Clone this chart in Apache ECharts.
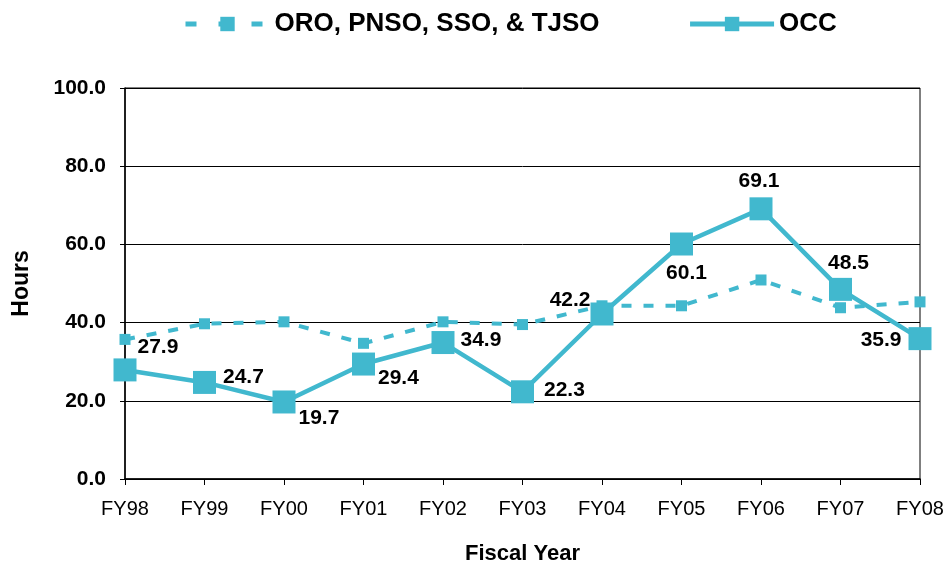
<!DOCTYPE html>
<html><head><meta charset="utf-8">
<script src="https://cdn.jsdelivr.net/npm/echarts@6/dist/echarts.min.js"></script>
<style>html,body{margin:0;padding:0;background:#fff}#c{width:947px;height:570px}</style>
</head><body><div id="c"></div>
<script>
const categories = ['FY98','FY99','FY00','FY01','FY02','FY03','FY04','FY05','FY06','FY07','FY08'];
const otherSeries = [35.7, 39.7, 40.2, 34.7, 40.2, 39.5, 44.3, 44.3, 50.9, 43.8, 45.3];
const occSeries = [27.9, 24.7, 19.7, 29.4, 34.9, 22.3, 42.2, 60.1, 69.1, 48.5, 35.9];
const occLabelPos = ['right','right','right','right','right','right','left','bottom','top','top','left'];
const occLabelOffset = [[-4,-23],[2,-5],[-2,16],[-2,14],[1,-2],[5,-2],[5,-14],[5,2],[-2,-1],[8,1],[-2,2]];
const color = '#41B8CE';
const font = 'Liberation Sans, Arial, sans-serif';

const chart = echarts.init(document.getElementById('c'));
chart.setOption({
  animation: false,
  grid: {left:125, right:27, top:88, bottom:85, show:true, borderColor:'#000', borderWidth:1},
  legend: {
    top: 6, left: 178, itemGap: 88, itemWidth: 84, itemHeight: 18,
    textStyle: {fontFamily: font, fontWeight:'bold', fontSize:26, color:'#000'},
    data: [
      {name:'ORO, PNSO, SSO, & TJSO', lineStyle:{width:5, type:[11,22]}},
      {name:'OCC', lineStyle:{width:5}}
    ]
  },
  xAxis: {
    type:'category', data: categories, boundaryGap:false,
    name:'Fiscal Year', nameLocation:'middle', nameGap:64,
    nameTextStyle:{fontFamily:font, fontWeight:'bold', fontSize:22, color:'#000'},
    axisLine:{lineStyle:{color:'#000', width:1.5}},
    axisTick:{show:true, alignWithLabel:true, length:6, lineStyle:{color:'#000'}},
    axisLabel:{fontFamily:font, fontSize:20, color:'#000', margin:20}
  },
  yAxis: {
    type:'value', min:0, max:100, interval:20,
    name:'Hours', nameLocation:'middle', nameGap:92,
    nameTextStyle:{fontFamily:font, fontWeight:'bold', fontSize:23, color:'#000'},
    axisLine:{show:true, lineStyle:{color:'#000', width:1.5}},
    axisTick:{show:true, inside:false, length:5, lineStyle:{color:'#000'}},
    axisLabel:{fontFamily:font, fontSize:21, fontWeight:'bold', color:'#000', margin:19,
      formatter: v => v.toFixed(1)},
    splitLine:{lineStyle:{color:'#000', width:1}}
  },
  series: [
    {
      name:'ORO, PNSO, SSO, & TJSO', type:'line', data: otherSeries,
      symbol:'rect', symbolSize:11, color: color,
      lineStyle:{color:color, width:4, type:[10,12]},
      itemStyle:{color:color}
    },
    {
      name:'OCC', type:'line', data: occSeries.map((v,i)=>({
        value:v,
        label:{position:occLabelPos[i], offset:occLabelOffset[i]}
      })),
      symbol:'rect', symbolSize:23, color: color,
      lineStyle:{color:color, width:4.5},
      itemStyle:{color:color},
      label:{show:true, fontFamily:font, fontWeight:'bold', fontSize:21, color:'#000',
        formatter: p => p.value.toFixed(1), distance:5},
      z:3
    }
  ]
});
</script></body></html>
